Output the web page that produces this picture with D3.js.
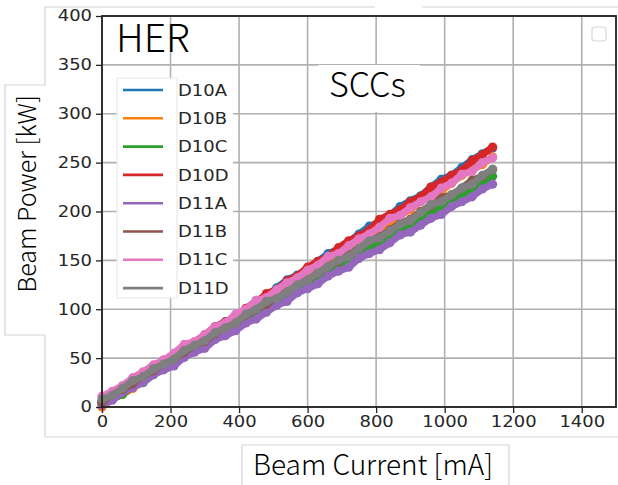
<!DOCTYPE html>
<html><head><meta charset="utf-8">
<script src="https://cdn.jsdelivr.net/npm/d3@7"></script>
<style>body{margin:0;background:#fff}svg{display:block}</style>
</head><body>
<svg id="c" width="618" height="485"></svg>
<script>
// ---- data ----
const currents = [0,30,60,90,120,150,180,210,240,270,300,330,360,390,420,450,480,510,540,570,600,630,660,690,720,750,780,810,840,870,900,930,960,990,1020,1050,1080,1110,1140];
const seriesNames = ["D10A","D10B","D10C","D10D","D11A","D11B","D11C","D11D"];
const D10A = [5,10,19,25,34,37,45,53,61,65,73,82,87,92,100,109,113,122,130,135,140,149,157,161,169,177,185,189,196,205,211,216,225,233,237,245,253,259,265];
const D10B = [0,8,13,19,28,36,39,47,55,62,67,73,82,87,96,100,109,114,123,129,133,141,150,156,160,169,175,183,187,196,202,210,216,221,229,237,243,248,256];
const D10C = [3,8,13,21,25,33,41,44,51,58,62,70,75,80,89,94,99,107,114,117,124,132,136,144,149,154,163,167,172,180,186,191,199,204,211,215,223,228,236];
const D10D = [5,13,18,26,32,38,48,53,60,65,74,82,87,92,101,107,116,120,129,134,143,149,154,163,170,175,181,192,197,202,210,215,225,230,237,242,252,258,266];
const D11A = [2,7,15,20,25,33,38,42,51,56,60,69,73,78,86,90,97,104,108,117,121,126,134,139,143,152,157,161,168,176,179,186,193,197,205,210,215,223,228];
const D11B = [5,13,18,24,32,37,45,49,56,63,67,75,83,86,94,100,105,113,118,127,130,137,144,149,157,162,170,174,181,188,192,200,206,214,217,224,232,236,243];
const D11C = [11,16,22,30,36,43,48,55,64,67,74,82,86,95,100,109,112,120,127,132,140,145,154,157,165,172,177,184,193,196,204,210,215,224,229,238,241,250,255];
const D11D = [8,12,19,27,31,39,44,49,58,63,68,76,81,86,95,100,108,111,118,125,130,137,144,150,154,162,170,173,180,187,191,199,207,210,217,224,228,237,243];
const seriesValues = [D10A,D10B,D10C,D10D,D11A,D11B,D11C,D11D];
const colors = ["#1f77b4","#ff7f0e","#2ca02c","#d62728","#9467bd","#8c564b","#e377c2","#7f7f7f"];
const xTicks = [0,200,400,600,800,1000,1200,1400];
const yTicks = [0,50,100,150,200,250,300,350,400];
const title = "HER", subtitle = "SCCs";
const xLabel = "Beam Current [mA]", yLabel = "Beam Power [kW]";

// ---- drawing ----
const svg = d3.select("#c");
const L=102,R=616,T=16,B=407;
const x = d3.scaleLinear().domain([0,1500]).range([L,R]);
const y = d3.scaleLinear().domain([0,400]).range([B,T]);
const SX = 1.16;

// composite panel outlines
const lg = "#d4d4d4";
const outline = [[45,437],[45,335],[5,335],[5,85],[45,85],[45,7],[375,7]];
svg.append("path").attr("d", d3.line()(outline)+"M422,7L618,7M45,437L618,437M242,485L242,445L509,445L509,485")
  .attr("fill","none").attr("stroke",lg).attr("stroke-width",1.2);

// grid
const g = svg.append("g");
g.selectAll(".gx").data(xTicks).join("line").attr("x1",d=>x(d)).attr("x2",d=>x(d)).attr("y1",T).attr("y2",B)
  .attr("stroke","#b0b0b0").attr("stroke-width",1.6);
g.selectAll(".gy").data(yTicks).join("line").attr("x1",L).attr("x2",R).attr("y1",d=>y(d)).attr("y2",d=>y(d))
  .attr("stroke","#b0b0b0").attr("stroke-width",1.6);

// data
const line = d3.line().x((d,i)=>x(currents[i])).y(d=>y(d)).curve(d3.curveLinear);
seriesValues.forEach((vals,k)=>{
  const s = svg.append("g");
  s.append("path").attr("d",line(vals)).attr("fill","none").attr("stroke",colors[k])
    .attr("stroke-width",7).attr("stroke-linejoin","round").attr("stroke-linecap","round");
  s.selectAll("circle").data(vals).join("circle").attr("cx",(d,i)=>x(currents[i])).attr("cy",d=>y(d))
    .attr("r",4.6).attr("fill",colors[k]);
});

// overlay boxes (HER, SCCs, legend)
svg.append("rect").attr("x",L+1).attr("y",T+1).attr("width",150-L).attr("height",63-T).attr("fill","#fff");
svg.append("rect").attr("x",318).attr("y",65).attr("width",102).attr("height",47).attr("fill","#fff");
svg.append("rect").attr("x",117).attr("y",78).attr("width",116).attr("height",220).attr("fill","#fff");
svg.append("path").attr("d","M117,298L117,78L177,78M117,298L177,298M177,78L177,298").attr("fill","none").attr("stroke","#e6e6e6").attr("stroke-width",1);

// empty legend box top-right
svg.append("rect").attr("x",592).attr("y",27).attr("width",14).attr("height",14).attr("rx",3)
  .attr("fill","#fff").attr("stroke","#d8d8d8").attr("stroke-width",1.2);

// legend
const leg = svg.append("g");
seriesNames.forEach((n,i)=>{
  const cy = 90 + i*28.3;
  leg.append("line").attr("x1",123).attr("x2",163).attr("y1",cy).attr("y2",cy).attr("stroke",colors[i]).attr("stroke-width",2.6);
  leg.append("text").attr("transform",`translate(178,${cy+5.6}) scale(${SX},1)`).text(n)
    .attr("font-family","DejaVu Sans").attr("font-size",15.5).attr("fill","#262626");
});

// axes
const xa = svg.append("g").attr("transform",`translate(0,${B})`).call(d3.axisBottom(x).tickValues(xTicks).tickFormat(d3.format("d")).tickSize(6).tickPadding(4));
const ya = svg.append("g").attr("transform",`translate(${L},0)`).call(d3.axisLeft(y).tickValues(yTicks).tickFormat(d3.format("d")).tickSize(6).tickPadding(5));
[xa,ya].forEach(a=>{
  a.select(".domain").remove();
  a.selectAll("line").attr("stroke","#222").attr("stroke-width",1.3);
  a.selectAll("text").attr("font-family","DejaVu Sans").attr("font-size",15.5).attr("fill","#262626");
});
xa.selectAll("text").attr("transform",`scale(${SX},1)`).attr("y",9).attr("dy","0.71em");
ya.selectAll("text").attr("transform",`scale(${SX},1)`).attr("x",-10/SX);

// frame
svg.append("rect").attr("x",L).attr("y",T).attr("width",R-L).attr("height",B-T).attr("fill","none").attr("stroke","#222").attr("stroke-width",1.8);

// titles
const jp = "'Noto Sans CJK JP','Noto Sans',sans-serif";
svg.append("text").attr("x",116).attr("y",52).text(title).attr("font-family",jp).attr("font-weight",300).attr("font-size",39).attr("fill","#000");
svg.append("text").attr("x",329).attr("y",97).text(subtitle).attr("font-family",jp).attr("font-weight",300).attr("font-size",34).attr("fill","#000");
svg.append("text").attr("x",253).attr("y",475).text(xLabel).attr("font-family",jp).attr("font-weight",300).attr("font-size",28).attr("fill","#000");
svg.append("text").attr("transform","translate(36,194) rotate(-90)").attr("text-anchor","middle").text(yLabel)
  .attr("font-family",jp).attr("font-weight",300).attr("font-size",25).attr("fill","#000");
</script>
</body></html>
